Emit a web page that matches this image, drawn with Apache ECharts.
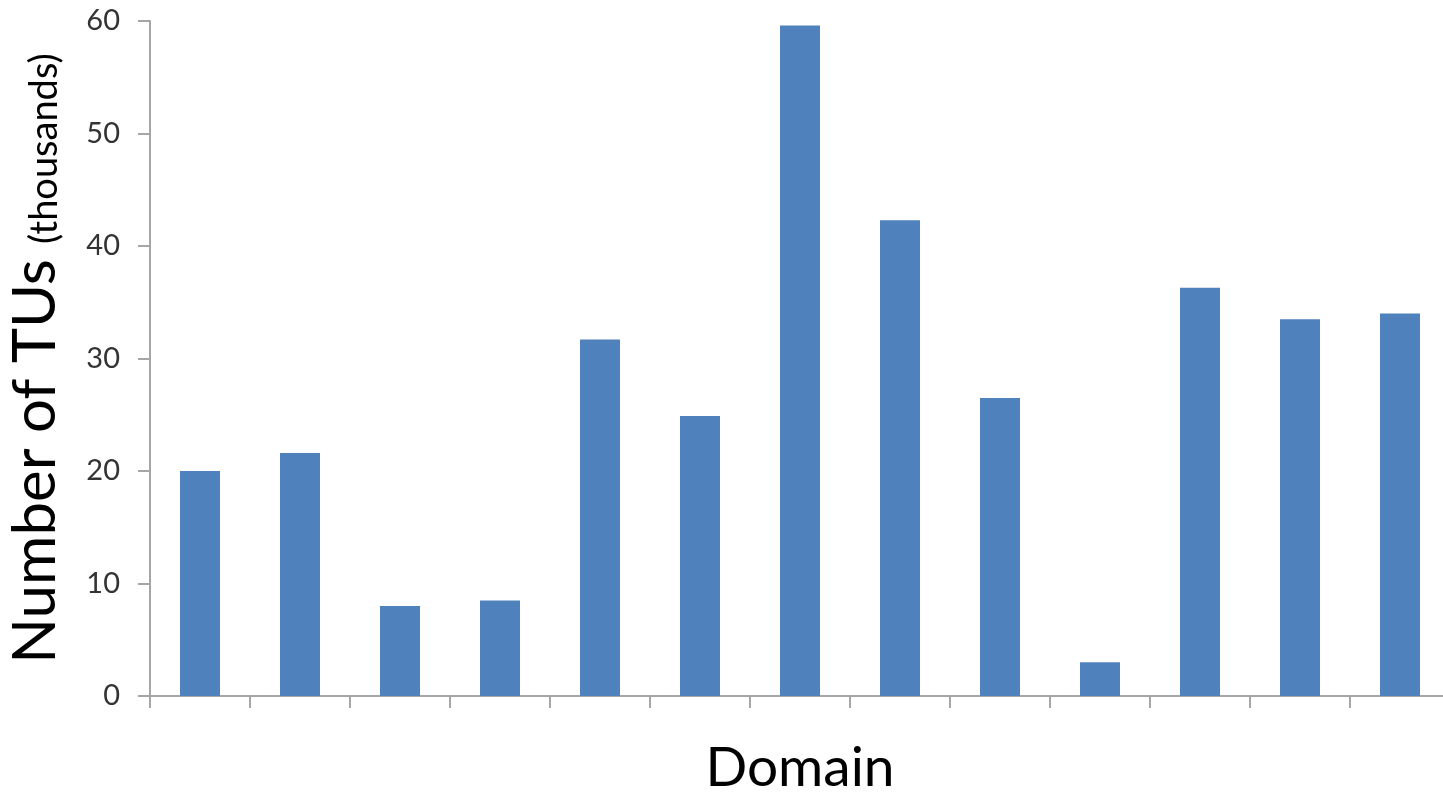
<!DOCTYPE html>
<html>
<head>
<meta charset="utf-8">
<script src="https://cdn.jsdelivr.net/npm/echarts@6/dist/echarts.min.js"></script>
<style>
  html, body { margin: 0; padding: 0; background: #fff; }
  #chart { width: 1443px; height: 793px; }
</style>
</head>
<body>
<div id="chart"></div>
<script>
// Number of TUs per domain (thousands)
const domains = ['D1', 'D2', 'D3', 'D4', 'D5', 'D6', 'D7', 'D8', 'D9', 'D10', 'D11', 'D12', 'D13'];
const tuCounts = [20.0, 21.6, 8.0, 8.5, 31.7, 24.9, 59.6, 42.3, 26.5, 3.0, 36.3, 33.5, 34.0];
const yTicks = { min: 0, max: 60, interval: 10 };

const chart = echarts.init(document.getElementById('chart'), null, { renderer: 'canvas' });
const axisGray = '#a6a6a6';
const font = 'Lato, "Open Sans", sans-serif';

chart.setOption({
  animation: false,
  grid: {
    left: 150, top: 21, width: 1300, bottom: 97,
    containLabel: false,
    outerBoundsMode: 'none'
  },
  xAxis: {
    type: 'category',
    data: domains,
    name: 'Domain',
    nameLocation: 'middle',
    nameGap: 45,
    nameTextStyle: { fontFamily: font, fontSize: 55, color: '#000' },
    axisLine: { lineStyle: { color: axisGray, width: 2 } },
    axisTick: { show: true, length: 12, lineStyle: { color: axisGray, width: 2 } },
    axisLabel: { show: false }
  },
  yAxis: {
    type: 'value',
    min: yTicks.min,
    max: yTicks.max,
    interval: yTicks.interval,
    name: '{a|Number of TUs }{b|(thousands)}',
    nameLocation: 'middle',
    nameGap: 84,
    nameRotate: 90,
    nameTextStyle: {
      rich: {
        a: { fontFamily: font, fontSize: 60, color: '#000', verticalAlign: 'bottom' },
        b: { fontFamily: font, fontSize: 38, color: '#000', verticalAlign: 'bottom', padding: [0, 0, 2, 0] }
      }
    },
    axisLine: { show: true, lineStyle: { color: axisGray, width: 2 } },
    axisTick: { show: true, length: 12, lineStyle: { color: axisGray, width: 2 } },
    splitLine: { show: false },
    axisLabel: { fontFamily: font, fontSize: 29, color: '#333', margin: 30 }
  },
  series: [{
    type: 'bar',
    data: tuCounts,
    barWidth: '40%',
    itemStyle: { color: '#4f81bd' }
  }]
});
</script>
</body>
</html>
